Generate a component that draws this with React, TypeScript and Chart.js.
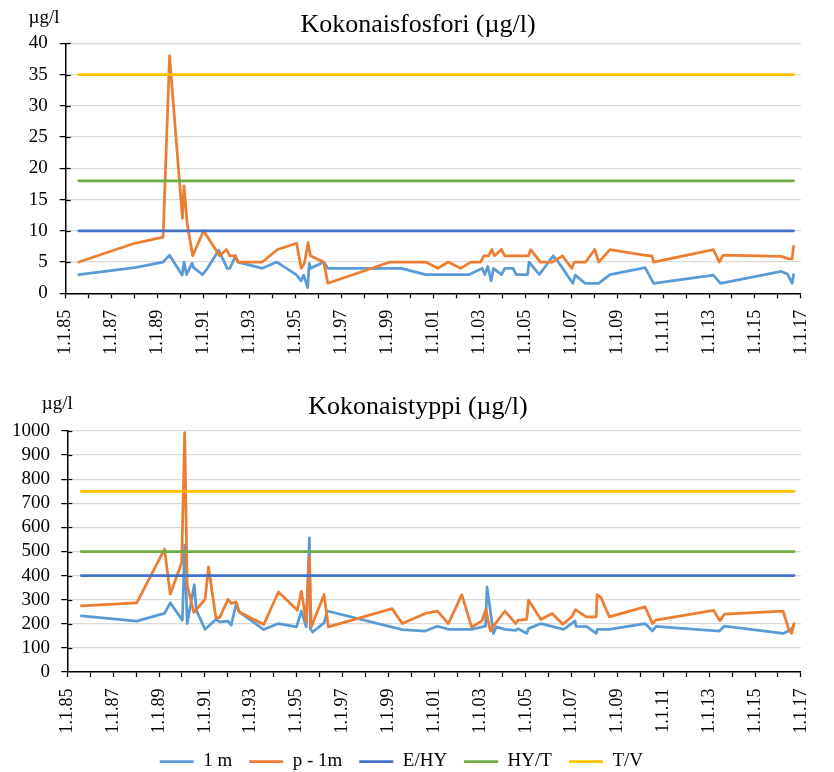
import React, { useEffect, useRef } from 'react';
import { Chart, registerables } from 'chart.js';

Chart.register(...registerables);

// ---------- data ----------
const xTickLabels = [
  '1.1.85', '1.1.87', '1.1.89', '1.1.91', '1.1.93', '1.1.95', '1.1.97', '1.1.99',
  '1.1.01', '1.1.03', '1.1.05', '1.1.07', '1.1.09', '1.1.11', '1.1.13', '1.1.15', '1.1.17',
];
const seriesNames = ['1 m', 'p - 1m', 'E/HY', 'HY/T', 'T/V'];

// Kokonaisfosfori (µg/l)
const pDates1m = [1985.57, 1988.0, 1989.24, 1989.52, 1990.07, 1990.15, 1990.26, 1990.5, 1990.57, 1990.95, 1991.17, 1991.66, 1992.03, 1992.15, 1992.39, 1992.5, 1993.56, 1994.19, 1995.03, 1995.25, 1995.36, 1995.53, 1995.6, 1995.67, 1996.23, 1996.41, 1999.61, 2000.67, 2002.57, 2003.13, 2003.24, 2003.37, 2003.52, 2003.62, 2003.97, 2004.11, 2004.47, 2004.61, 2005.1, 2005.17, 2005.62, 2006.22, 2006.44, 2007.07, 2007.18, 2007.6, 2008.2, 2008.69, 2010.22, 2010.59, 2013.19, 2013.5, 2016.15, 2016.41, 2016.62, 2016.68];
const pValues1m = [3, 4.1, 5, 6.1, 2.9, 5, 3, 4.8, 4.1, 3, 4, 6.9, 4, 4, 6, 5, 4, 5, 3, 2, 2.9, 0.9, 4.8, 4, 5, 4, 4, 3, 3, 4, 3, 4.3, 2, 4, 3, 4, 4, 3, 3, 5, 3, 6, 5, 1.6, 2.9, 1.6, 1.6, 3, 4.1, 1.6, 2.9, 1.6, 3.5, 3.1, 1.6, 3];
const pDatesP1m = [1985.57, 1988.0, 1989.24, 1989.52, 1990.08, 1990.15, 1990.29, 1990.53, 1991.0, 1991.7, 1992.0, 1992.15, 1992.36, 1992.5, 1993.56, 1994.22, 1995.05, 1995.25, 1995.39, 1995.55, 1995.65, 1996.23, 1996.41, 1999.12, 2000.67, 2001.2, 2001.65, 2002.19, 2002.63, 2003.06, 2003.2, 2003.41, 2003.55, 2003.66, 2003.97, 2004.11, 2005.14, 2005.24, 2005.66, 2006.18, 2006.62, 2007.03, 2007.14, 2007.63, 2008.03, 2008.2, 2008.69, 2010.17, 2010.52, 2010.59, 2013.19, 2013.45, 2013.61, 2016.15, 2016.48, 2016.62, 2016.68];
const pValuesP1m = [5, 8, 9, 38, 12, 17.2, 11, 6, 10, 6, 7, 6, 6, 5, 5, 7, 8, 4, 4.8, 8.1, 6, 5, 1.6, 5, 5, 4, 5, 4, 5, 5, 6, 6, 7, 6, 7, 6, 6, 7, 5, 5, 6, 4, 5, 5, 7, 5, 7, 6.1, 6, 5, 7, 5, 6.1, 5.9, 5.5, 5.5, 7.5];
const pLimitDates = [1985.57, 2016.68];
const pLimits = [10, 18, 35]; // E/HY, HY/T, T/V
const pTicks = { max: 40, step: 5 };

// Kokonaistyppi (µg/l)
const nDates1m = [1985.61, 1988.03, 1989.24, 1989.49, 1990.02, 1990.12, 1990.23, 1990.54, 1990.63, 1991.01, 1991.48, 1991.65, 1992.01, 1992.15, 1992.36, 1992.5, 1993.57, 1994.21, 1995.0, 1995.21, 1995.42, 1995.56, 1995.6, 1995.7, 1996.2, 1996.34, 1999.61, 2000.61, 2001.15, 2001.63, 2002.64, 2003.24, 2003.31, 2003.59, 2003.71, 2004.09, 2004.56, 2004.66, 2005.04, 2005.12, 2005.66, 2006.65, 2007.15, 2007.19, 2007.66, 2008.07, 2008.12, 2008.64, 2010.2, 2010.53, 2010.67, 2013.44, 2013.66, 2016.22, 2016.46, 2016.6, 2016.7];
const nValues1m = [233, 211, 243, 287, 215, 526, 201, 362, 256, 177, 218, 208, 211, 194, 280, 249, 176, 201, 187, 253, 187, 557, 180, 166, 204, 253, 176, 170, 190, 177, 177, 190, 352, 160, 187, 177, 173, 180, 160, 180, 201, 177, 212, 189, 188, 160, 177, 177, 201, 170, 189, 170, 190, 160, 170, 180, 194];
const nDatesP1m = [1985.61, 1988.03, 1989.24, 1989.49, 1989.99, 1990.12, 1990.23, 1990.52, 1991.01, 1991.16, 1991.48, 1991.65, 1992.01, 1992.15, 1992.36, 1992.5, 1993.57, 1994.21, 1995.04, 1995.21, 1995.42, 1995.56, 1995.64, 1996.2, 1996.39, 1999.17, 1999.61, 2000.62, 2001.15, 2001.62, 2002.21, 2002.64, 2003.08, 2003.26, 2003.45, 2003.67, 2004.09, 2004.56, 2004.66, 2005.04, 2005.12, 2005.66, 2006.15, 2006.62, 2007.0, 2007.17, 2007.64, 2008.07, 2008.11, 2008.28, 2008.64, 2010.2, 2010.53, 2010.67, 2013.19, 2013.47, 2013.66, 2016.22, 2016.46, 2016.6, 2016.7];
const nValuesP1m = [274, 287, 510, 323, 453, 993, 360, 247, 301, 436, 226, 226, 302, 284, 291, 249, 197, 332, 256, 336, 208, 478, 187, 321, 187, 263, 201, 243, 253, 201, 321, 185, 212, 259, 170, 201, 253, 201, 215, 218, 298, 218, 243, 198, 229, 259, 229, 229, 321, 309, 229, 270, 201, 215, 256, 212, 240, 253, 180, 160, 201];
const nLimitDates = [1985.61, 2016.7];
const nLimits = [400, 500, 750]; // E/HY, HY/T, T/V
const nTicks = { max: 1000, step: 100 };

// ---------- styling ----------
const FONT = "'Liberation Serif', 'Times New Roman', serif";
const COLORS = ['#5B9BD5', '#ED7D31', '#4472C4', '#70AD47', '#FFC000'];
const W = 834;
const LEGEND_FONT = 19;
const LEGEND_PAD = 17;
const LEGEND_H = LEGEND_FONT + LEGEND_PAD + 10;

const pts = (xs: number[], ys: number[]) => xs.map((x, i) => ({ x, y: ys[i] }));

function makeDatasets(d1: number[], v1: number[], d2: number[], v2: number[], ld: number[], limits: number[]) {
  const series = [pts(d1, v1), pts(d2, v2), ...limits.map((l) => ld.map((x) => ({ x, y: l })))];
  return series.map((data, i) => ({
    label: seriesNames[i],
    data,
    borderColor: COLORS[i],
    backgroundColor: COLORS[i],
    borderWidth: 2.75,
    pointRadius: 0,
    pointHoverRadius: 0,
    tension: 0,
    fill: false,
    borderJoinStyle: 'round' as const,
    borderCapStyle: 'round' as const,
    order: 5 - i,
  }));
}

type Panel = {
  title: string;
  titleX: number;
  titleBase: number;
  unitX: number;
  unitY: number;
  yMax: number;
  yStep: number;
  padLeft: number;
  left: number;
  right: number;
  top: number;
  bottom: number;
  xAxisH: number;
  legend: boolean;
  yLabelRight: number;
};

const panelHeight = (p: Panel) => p.bottom + p.xAxisH + (p.legend ? LEGEND_H : 0);

function makeTextPlugin(p: Panel) {
  return {
    id: 'panelText',
    afterDraw(chart: any) {
      const { ctx, chartArea, scales } = chart;
      ctx.save();
      ctx.fillStyle = '#000';
      ctx.textBaseline = 'alphabetic';
      ctx.font = `26px ${FONT}`;
      ctx.textAlign = 'center';
      ctx.fillText(p.title, p.titleX, p.titleBase);
      ctx.font = `19px ${FONT}`;
      ctx.textAlign = 'left';
      ctx.fillText('µg/l', p.unitX, p.unitY);
      const ys = scales.y;
      ctx.strokeStyle = '#000';
      ctx.lineWidth = 1.25;
      ys.ticks.forEach((t: any) => {
        if (t.value === 0) return;
        const py = Math.round(ys.getPixelForValue(t.value)) + 0.5;
        ctx.beginPath();
        ctx.moveTo(chartArea.left, py);
        ctx.lineTo(chartArea.left + 5, py);
        ctx.stroke();
      });
      ctx.restore();
    },
  };
}

function makeConfig(p: Panel, datasets: any[]): any {
  return {
    type: 'line',
    data: { datasets },
    options: {
      responsive: false,
      animation: false,
      events: [],
      layout: { padding: { left: p.padLeft, right: W - p.right, top: p.top, bottom: 0 } },
      plugins: {
        title: { display: false },
        legend: {
          display: p.legend,
          position: 'bottom',
          labels: {
            usePointStyle: true,
            pointStyle: 'line',
            pointStyleWidth: 34,
            padding: LEGEND_PAD,
            color: '#000',
            font: { family: FONT, size: LEGEND_FONT },
            sort: (a: any, b: any) => a.datasetIndex - b.datasetIndex,
          },
        },
        tooltip: { enabled: false },
      },
      scales: {
        x: {
          type: 'linear',
          min: 1985,
          max: 2017,
          afterFit: (s: any) => {
            s.height = p.xAxisH;
          },
          ticks: {
            stepSize: 1,
            autoSkip: false,
            maxTicksLimit: 40,
            minRotation: 90,
            maxRotation: 90,
            padding: 11.5,
            color: '#000',
            font: { family: FONT, size: 18 },
            callback: (value: any) => {
              const v = Math.round(Number(value));
              const idx = (v - 1985) / 2;
              return Number.isInteger(idx) && xTickLabels[idx] ? xTickLabels[idx] : '';
            },
          },
          grid: { drawOnChartArea: false, drawTicks: true, tickLength: 5, tickColor: '#000', tickWidth: 1.25 },
          border: { display: true, color: '#000', width: 1.5 },
        },
        y: {
          min: 0,
          max: p.yMax,
          afterFit: (s: any) => {
            s.width = p.left - p.padLeft;
          },
          ticks: {
            stepSize: p.yStep,
            autoSkip: false,
            padding: p.left - 6 - p.yLabelRight,
            color: '#000',
            font: { family: FONT, size: 19 },
            callback: (value: any) => String(value),
          },
          grid: { color: '#d9d9d9', lineWidth: 1.25, tickLength: 6, tickColor: '#000', tickWidth: 1.25 },
          border: { display: true, color: '#000', width: 1.5 },
        },
      },
    },
    plugins: [makeTextPlugin(p)],
  };
}

const topPanel: Panel = {
  title: 'Kokonaisfosfori (µg/l)',
  titleX: 418,
  titleBase: 31.5,
  unitX: 28.5,
  unitY: 23,
  yMax: pTicks.max,
  yStep: pTicks.step,
  padLeft: 0,
  left: 65.7,
  right: 823.3,
  top: 43.3,
  bottom: 293.3,
  xAxisH: 86.7,
  legend: false,
  yLabelRight: 47.7,
};

const bottomPanel: Panel = {
  title: 'Kokonaistyppi (µg/l)',
  titleX: 418,
  titleBase: 34.3,
  unitX: 41.7,
  unitY: 29,
  yMax: nTicks.max,
  yStep: nTicks.step,
  padLeft: -15,
  left: 67.3,
  right: 817.7,
  top: 51,
  bottom: 291.7,
  xAxisH: 63,
  legend: true,
  yLabelRight: 50,
};

export default function App() {
  const topRef = useRef<HTMLCanvasElement>(null);
  const botRef = useRef<HTMLCanvasElement>(null);

  useEffect(() => {
    document.body.style.margin = '0';
    const c1 = new Chart(
      topRef.current as HTMLCanvasElement,
      makeConfig(topPanel, makeDatasets(pDates1m, pValues1m, pDatesP1m, pValuesP1m, pLimitDates, pLimits)),
    );
    const c2 = new Chart(
      botRef.current as HTMLCanvasElement,
      makeConfig(bottomPanel, makeDatasets(nDates1m, nValues1m, nDatesP1m, nValuesP1m, nLimitDates, nLimits)),
    );
    return () => {
      c1.destroy();
      c2.destroy();
    };
  }, []);

  return (
    <div style={{ position: 'relative', width: W, height: 772, overflow: 'hidden', background: '#fff' }}>
      <canvas ref={topRef} width={W} height={Math.round(panelHeight(topPanel))} style={{ position: 'absolute', left: 0, top: 0, display: 'block' }} />
      <canvas ref={botRef} width={W} height={Math.round(panelHeight(bottomPanel))} style={{ position: 'absolute', left: 0, top: 380, display: 'block' }} />
    </div>
  );
}
